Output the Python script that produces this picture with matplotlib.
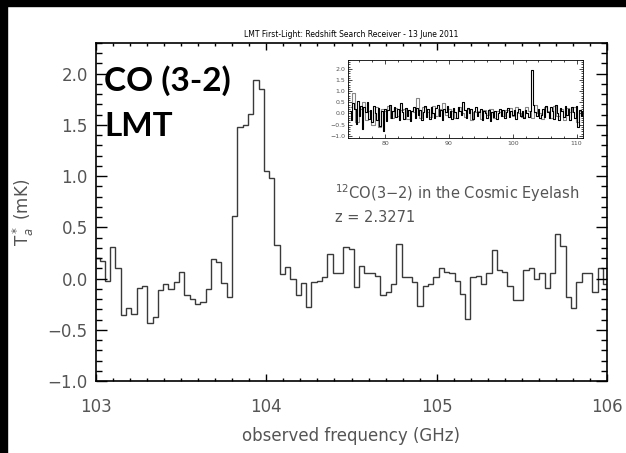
import numpy as np
import matplotlib.pyplot as plt
from matplotlib.patches import Rectangle
from matplotlib.ticker import MultipleLocator

# main spectrum: CO(3-2) channels, 103-106 GHz
chan_start = 102.99   # GHz, left edge of the first channel
chan_width = 0.0311   # GHz
ta_mk = [0.20, 0.17, -0.02, 0.31, 0.10, -0.36, -0.29, -0.35, -0.09, -0.07,
         -0.43, -0.38, -0.11, -0.05, -0.10, -0.03, 0.06, -0.16, -0.20, -0.25,
         -0.23, -0.10, 0.19, 0.16, -0.04, -0.18, 0.61, 1.48, 1.50, 1.61,
         1.94, 1.85, 1.05, 0.98, 0.33, 0.04, 0.11, 0.00, -0.16, -0.04,
         -0.28, -0.03, -0.02, 0.02, 0.24, 0.05, 0.05, 0.31, 0.29, -0.08,
         0.12, 0.05, 0.05, 0.03, -0.16, -0.13, -0.05, 0.34, 0.02, 0.02,
         -0.03, -0.27, -0.07, -0.05, 0.02, 0.10, 0.06, 0.05, -0.02, -0.15,
         -0.39, 0.02, 0.03, -0.05, 0.05, 0.28, 0.08, 0.06, -0.07, -0.21,
         -0.21, 0.08, 0.10, 0.00, 0.05, -0.09, 0.05, 0.44, 0.32, -0.18,
         -0.29, -0.03, 0.05, 0.05, -0.13, 0.10, -0.05]

# inset: full receiver band (black + grey)
inset_black_start, inset_black_step = 74.5, 0.25
inset_black = [0.10, -0.30, 0.45, 0.20, -0.45, 0.55, -0.10, 0.35, -0.70, 0.30,
               0.05, 0.50, -0.25, 0.15, -0.40, 0.35, 0.00, -0.30, 0.25, -0.55,
               0.10, -0.80, 0.20, -0.35, 0.15, 0.40, -0.20, 0.10, 0.30, -0.15,
               0.20, -0.30, 0.45, 0.05, -0.25, 0.25, -0.10, 0.15, -0.35, 0.10,
               0.30, -0.20, 0.25, -0.05, 0.15, -0.30, 0.05, 0.35, -0.15, 0.20,
               -0.25, 0.30, 0.00, -0.20, 0.25, 0.40, -0.10, 0.15, -0.30, 0.20,
               0.05, 0.35, -0.15, 0.10, -0.25, 0.25, 0.05, -0.20, 0.30, 0.10,
               -0.05, 0.50, 0.15, -0.20, 0.25, 0.00, 0.20, -0.25, 0.10, 0.30,
               -0.10, 0.05, 0.20, -0.30, 0.10, 0.00, -0.20, 0.15, -0.35, 0.05,
               -0.15, 0.10, -0.25, 0.00, 0.20, -0.10, 0.15, -0.20, 0.05, 0.25,
               -0.15, 0.10, -0.05, 0.15, -0.25, 0.05, 0.20, -0.10, 0.10, -0.20,
               0.15, 0.00, -0.15, 0.10, 1.95, 0.40, 0.05, -0.10, 0.20, -0.20,
               -0.05, 0.20, -0.15, 0.35, 0.05, -0.20, 0.30, 0.10, -0.25, 0.40,
               0.00, -0.30, 0.25, 0.10, -0.15, 0.35, -0.05, 0.20, -0.30, 0.30,
               0.05, -0.20, 0.35, -0.60, 0.15, -0.10, 0.10]
inset_grey_start, inset_grey_step = 74.6, 0.5
inset_grey = [0.30, 0.90, -0.40, 0.20, 0.50, -0.30, 0.10, -0.50, 0.30, -0.60,
              0.20, 0.10, 0.35, -0.20, 0.25, -0.10, 0.15, 0.20, -0.25, 0.10,
              0.05, 0.70, -0.20, 0.30, 0.05, -0.15, 0.35, -0.10, 0.20, 0.45,
              -0.05, 0.20, 0.10, -0.20, 0.30, 0.00, -0.15, 0.20, -0.30, 0.05,
              0.10, -0.25, 0.15, -0.05, 0.20, -0.20, 0.10, 0.05, -0.10, 0.15,
              0.25, -0.10, 0.30, 0.00, -0.15, 0.30, 0.10, -0.20, 0.40, 0.00,
              -0.25, 0.30, 0.10, -0.20, 0.35, -0.10, 0.20, -0.30, 0.25, 0.05,
              0.30, -0.40, 0.10]

grey_txt = '#555555'

fig = plt.figure(figsize=(6.26, 4.53), dpi=100)
fig.patch.set_facecolor('white')
# black frame pieces at top / left of the screenshot
fig.add_artist(Rectangle((0, 1 - 6 / 453), 1, 6 / 453, transform=fig.transFigure,
                         color='black', zorder=10))
fig.add_artist(Rectangle((0, 0), 7 / 626, 1, transform=fig.transFigure,
                         color='black', zorder=10))

ax = fig.add_axes([96 / 626, 1 - 381 / 453, 511 / 626, 338 / 453])
edges = chan_start + chan_width * np.arange(len(ta_mk) + 1)
ax.stairs(ta_mk, edges, baseline=None, color='#3a3a3a', lw=1.0)

ax.set_xlim(103, 106)
ax.set_ylim(-1.0, 2.3)
ax.xaxis.set_major_locator(MultipleLocator(1))
ax.xaxis.set_minor_locator(MultipleLocator(0.1))
ax.yaxis.set_major_locator(MultipleLocator(0.5))
ax.yaxis.set_minor_locator(MultipleLocator(0.1))
ax.tick_params(which='both', direction='in', top=True, right=True, color='black')
ax.tick_params(axis='x', which='major', length=5, width=1, pad=12,
               labelsize=12, labelcolor=grey_txt)
ax.tick_params(axis='x', which='minor', length=2.5, width=1)
ax.tick_params(axis='y', which='major', length=8, width=1, pad=6,
               labelsize=12, labelcolor=grey_txt)
ax.tick_params(axis='y', which='minor', length=4, width=1)
for s in ax.spines.values():
    s.set_linewidth(1.2)

ax.set_xlabel('observed frequency (GHz)', fontsize=12, color=grey_txt, labelpad=8)
ax.set_ylabel(r'T$_a^*$ (mK)', fontsize=12, color=grey_txt, labelpad=8)
ax.set_title('LMT First-Light: Redshift Search Receiver - 13 June 2011',
             fontsize=5.5, pad=4)

ax.text(0.016, 0.89, 'CO (3-2)', transform=ax.transAxes, fontsize=24,
        fontweight='bold', family='Lato', va='center', ha='left')
ax.text(0.016, 0.754, 'LMT', transform=ax.transAxes, fontsize=24,
        fontweight='bold', family='Lato', va='center', ha='left')
ax.text(0.468, 0.556, '$^{12}$CO(3−2) in the Cosmic Eyelash',
        transform=ax.transAxes, fontsize=10.5, color=grey_txt, va='center')
ax.text(0.468, 0.485, 'z = 2.3271', transform=ax.transAxes, fontsize=10.5,
        color=grey_txt, va='center')

# inset with the whole band
axi = fig.add_axes([348 / 626, 1 - 138 / 453, 235 / 626, 78 / 453])
xg = inset_grey_start + inset_grey_step * np.arange(len(inset_grey))
xb = inset_black_start + inset_black_step * np.arange(len(inset_black))
axi.step(xg, inset_grey, where='mid', color='#888888', lw=0.8)
axi.step(xb, inset_black, where='mid', color='black', lw=0.8)
axi.set_xlim(74.2, 111)
axi.set_ylim(-1.1, 2.4)
axi.xaxis.set_major_locator(MultipleLocator(10))
axi.xaxis.set_minor_locator(MultipleLocator(2))
axi.yaxis.set_major_locator(MultipleLocator(0.5))
axi.yaxis.set_minor_locator(MultipleLocator(0.1))
axi.tick_params(which='both', direction='in', top=True, right=True,
                labelsize=4.5, labelcolor=grey_txt, width=0.5, pad=2)
axi.tick_params(which='major', length=3)
axi.tick_params(which='minor', length=1.5)
for s in axi.spines.values():
    s.set_linewidth(0.6)

fig.savefig('out.png', dpi=100)
